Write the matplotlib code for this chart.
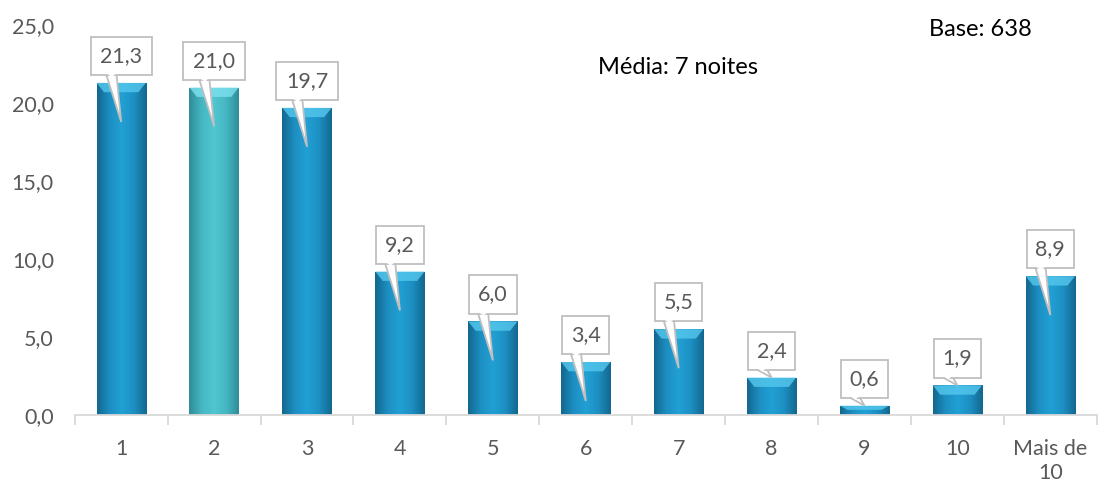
import matplotlib
matplotlib.use("Agg")
import matplotlib.pyplot as plt
import numpy as np
from matplotlib.colors import LinearSegmentedColormap
from matplotlib.patches import Polygon

categories = ["1", "2", "3", "4", "5", "6", "7", "8", "9", "10", "Mais de\n10"]
values = [21.3, 21.0, 19.7, 9.2, 6.0, 3.4, 5.5, 2.4, 0.6, 1.9, 8.9]
labels = ["21,3", "21,0", "19,7", "9,2", "6,0", "3,4", "5,5", "2,4", "0,6", "1,9", "8,9"]
yticks = [0, 5, 10, 15, 20, 25]
ytick_labels = ["0,0", "5,0", "10,0", "15,0", "20,0", "25,0"]

plt.rcParams["font.family"] = ["Lato", "DejaVu Sans"]
TXT = "#595959"

fig = plt.figure(figsize=(10.99, 4.84), dpi=100)
ax = fig.add_axes([0.068, 0.1426, 0.93, 0.8054])
ax.set_xlim(-0.5, len(values) - 0.5)
ax.set_ylim(0, 25)

blue = LinearSegmentedColormap.from_list("b", ["#13688f", "#1d8fc2", "#21a0d4", "#1d8fc2", "#13688f"])
teal = LinearSegmentedColormap.from_list("t", ["#2f8e98", "#45b7c2", "#4fc6d1", "#45b7c2", "#2f8e98"])
grad = np.linspace(0, 1, 64).reshape(1, -1)

w = 0.53
bars = ax.bar(range(len(values)), values, width=w, color="none", edgecolor="none", zorder=2)
for i, (b, v) in enumerate(zip(bars, values)):
    cmap = teal if i == 1 else blue
    im = ax.imshow(grad, cmap=cmap, aspect="auto", extent=[i - w / 2, i + w / 2, 0, v], zorder=2)
    im.set_clip_path(b)
    # top bevel
    bh = min(0.6, v * 0.45)
    top = "#7fe0ee" if i == 1 else "#55c8ee"
    ax.add_patch(Polygon([[i - w / 2, v], [i + w / 2, v], [i + w / 2 - 0.08, v - bh], [i - w / 2 + 0.08, v - bh]],
                         closed=True, color=top, alpha=0.8, lw=0, zorder=3))

# callouts
for i, (v, lab) in enumerate(zip(values, labels)):
    box_bottom = v + 0.5
    box_h = 2.45
    bw = 0.33 if len(lab) > 3 else 0.255
    tip = v - 2.5 if v >= 3 else v
    ax.add_patch(Polygon([[i - 0.16, box_bottom + 0.02], [i, tip], [i - 0.05, box_bottom + 0.02]],
                         closed=True, facecolor="white", edgecolor="#bfbfbf", lw=1.3, zorder=4))
    ax.add_patch(plt.Rectangle((i - bw, box_bottom), 2 * bw, box_h, facecolor="white",
                               edgecolor="#bfbfbf", lw=1.3, zorder=4))
    ax.add_patch(Polygon([[i - 0.15, box_bottom + 0.08], [i - 0.06, box_bottom + 0.08],
                          [i - 0.1, box_bottom - 0.12]], closed=True, facecolor="white", lw=0, zorder=5))
    ax.text(i, box_bottom + box_h / 2, lab, ha="center", va="center", fontsize=15.5, color=TXT, zorder=6)

ax.set_yticks(yticks)
ax.set_yticklabels(ytick_labels, fontsize=15.5, color=TXT)
ax.set_xticks(range(len(values)))
ax.set_xticklabels(categories, fontsize=15.5, color=TXT, linespacing=1.25)
ax.set_xticks(np.arange(-0.5, len(values), 1.0), minor=True)
ax.tick_params(axis="x", which="major", length=0, pad=17)
ax.tick_params(axis="x", which="minor", length=7, color="#d9d9d9", width=1.3)
ax.tick_params(axis="y", length=0, pad=15)
for s in ["top", "right", "left"]:
    ax.spines[s].set_visible(False)
ax.spines["bottom"].set_color("#d9d9d9")
ax.spines["bottom"].set_linewidth(1.3)

fig.text(980 / 1099, 1 - 30 / 484, "Base: 638", ha="center", va="center", fontsize=17, color="black")
fig.text(678 / 1099, 1 - 68 / 484, "Média: 7 noites", ha="center", va="center", fontsize=17, color="black")

fig.savefig("out.png", dpi=100)
